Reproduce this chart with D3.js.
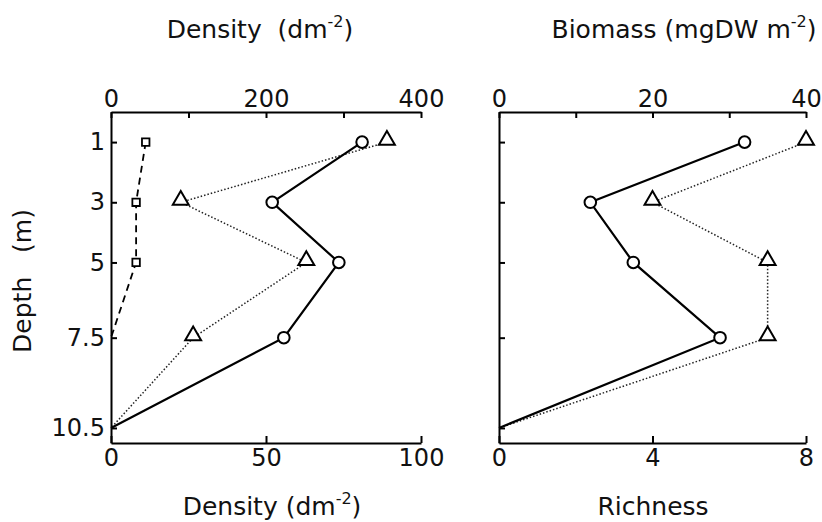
<!DOCTYPE html>
<html>
<head>
<meta charset="utf-8">
<script src="https://cdn.jsdelivr.net/npm/d3@7"></script>
<style>
  body { margin: 0; background: #fff; }
  svg { font-family: "DejaVu Sans", sans-serif; }
  .axis path, .axis line { stroke: #000; stroke-width: 2; }
  .axis text { font-size: 24px; fill: #111; }
  .titre { font-size: 25px; fill: #111; }
</style>
</head>
<body>
<div id="graphe"></div>
<script>
// donnees
var depths = [1, 3, 5, 7.5, 10.5];
var depthTicks = [1, 3, 5, 7.5, 10.5];

// panneau gauche
var densiteTotale = [324, 208, 294, 223, 0];      // cercles, axe du haut 0-400
var densiteTriangles = [89, 22.5, 63, 26.5, 0];   // triangles, axe du bas 0-100
var depthsCarres = [1, 3, 5, 7.5];
var densiteCarres = [11.2, 8.1, 8.1, 0];          // carres, axe du bas 0-100

// panneau droit
var biomasse = [32, 11.9, 17.5, 28.8, 0];         // cercles, axe du haut 0-40
var richesse = [8, 4, 7, 7, 0];                   // triangles, axe du bas 0-8

var topTicksL = [0, 100, 200, 300, 400], topLabelsL = [0, 200, 400];
var botTicksL = [0, 50, 100];
var topTicksR = [0, 10, 20, 30, 40], topLabelsR = [0, 20, 40];
var botTicksR = [0, 4, 8];

var width = 822, height = 522;

var svg = d3.select("#graphe")
  .append("svg")
    .attr("width", width)
    .attr("height", height);

var y = d3.scaleLinear().domain([0, 11]).range([112, 443]);

var xTopL = d3.scaleLinear().domain([0, 400]).range([111, 421]);
var xBotL = d3.scaleLinear().domain([0, 100]).range([111, 421]);
var xTopR = d3.scaleLinear().domain([0, 40]).range([499, 806]);
var xBotR = d3.scaleLinear().domain([0, 8]).range([499, 806]);

function dessineAxes(xTop, topTicks, topLabels, xBot, botTicks, avecLabelsY) {
  var x0 = xTop.range()[0];
  svg.append("g")
    .attr("class", "axis")
    .attr("transform", "translate(0," + y(0) + ")")
    .call(d3.axisTop(xTop).tickValues(topTicks).tickSizeInner(-6).tickSizeOuter(0).tickPadding(5)
      .tickFormat(function(d) { return topLabels.indexOf(d) >= 0 ? d : ""; }));

  svg.append("g")
    .attr("class", "axis")
    .attr("transform", "translate(0," + y(11) + ")")
    .call(d3.axisBottom(xBot).tickValues(botTicks).tickSizeInner(-7).tickSizeOuter(0).tickPadding(6));

  svg.append("g")
    .attr("class", "axis")
    .attr("transform", "translate(" + x0 + ",0)")
    .call(d3.axisLeft(y).tickValues(depthTicks).tickSizeInner(-6).tickSizeOuter(0).tickPadding(6)
      .tickFormat(function(d) { return avecLabelsY ? d : ""; }));

  svg.selectAll(".axis .domain").attr("stroke-width", 2);
  svg.selectAll(".axis text").attr("font-family", "DejaVu Sans");
}

dessineAxes(xTopL, topTicksL, topLabelsL, xBotL, botTicksL, true);
dessineAxes(xTopR, topTicksR, topLabelsR, xBotR, botTicksR, false);

// series
function serie(xs, ds, vals, style, symbole) {
  var pts = vals.map(function(v, i) { return [xs(v), y(ds[i])]; });
  var path = svg.append("path")
    .attr("d", d3.line()(pts))
    .attr("fill", "none")
    .attr("stroke", style.color)
    .attr("stroke-width", style.width);
  if (style.dash) path.attr("stroke-dasharray", style.dash);

  svg.append("g")
    .selectAll("path")
    .data(pts.filter(function(p, i) { return vals[i] > 0; }))
    .enter()
    .append("path")
      .attr("transform", function(p) { return "translate(" + p[0] + "," + (p[1] + symbole.dy) + ")"; })
      .attr("d", d3.symbol().type(symbole.type).size(symbole.size))
      .attr("fill", "white")
      .attr("stroke", "black")
      .attr("stroke-width", symbole.sw);
}

var plein = { color: "#000", width: 2.2 };
var pointille = { color: "#222", width: 1.5, dash: "1.5,2" };
var tirets = { color: "#000", width: 1.8, dash: "7,5" };
var cercle = { type: d3.symbolCircle, size: Math.PI * 5.8 * 5.8, sw: 2, dy: 0 };
var triangle = { type: d3.symbolTriangle, size: 110, sw: 2, dy: -2 };
var carre = { type: d3.symbolSquare, size: 56, sw: 1.8, dy: 0 };

serie(xBotL, depthsCarres, densiteCarres, tirets, carre);
serie(xBotL, depths, densiteTriangles, pointille, triangle);
serie(xTopL, depths, densiteTotale, plein, cercle);

serie(xBotR, depths, richesse, pointille, triangle);
serie(xTopR, depths, biomasse, plein, cercle);

// titres
function titre(x, yy, avant, apres) {
  var t = svg.append("text")
    .attr("class", "titre")
    .attr("x", x)
    .attr("y", yy)
    .attr("text-anchor", "middle")
    .attr("font-family", "DejaVu Sans")
    .attr("xml:space", "preserve");
  t.append("tspan").text(avant);
  if (apres !== undefined) {
    t.append("tspan").attr("dy", -11).attr("font-size", 16).text("-2");
    t.append("tspan").attr("dy", 11).text(apres);
  }
  return t;
}

titre(260, 38, "Density  (dm", ")");
titre(684, 38, "Biomass (mgDW m", ")");
titre(272, 515, "Density (dm", ")");
titre(653, 515, "Richness");

svg.append("text")
  .attr("class", "titre")
  .attr("font-family", "DejaVu Sans")
  .attr("transform", "translate(31,281) rotate(-90)")
  .attr("text-anchor", "middle")
  .attr("xml:space", "preserve")
  .text("Depth   (m)");
</script>
</body>
</html>
